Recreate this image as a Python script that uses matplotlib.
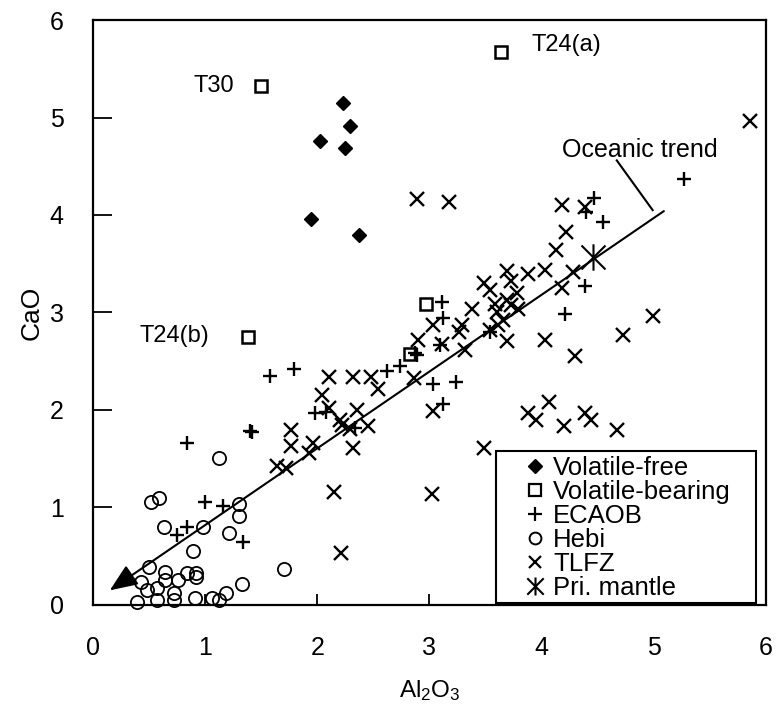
import numpy as np
import matplotlib.pyplot as plt
from matplotlib.lines import Line2D
from matplotlib.path import Path
from matplotlib.patches import Rectangle

plt.rcParams['font.family'] = ['Liberation Sans', 'DejaVu Sans']
plt.rcParams['mathtext.default'] = 'regular'

# ---- data (Al2O3, CaO) ----
vfree_al = [2.23, 2.29, 2.02, 2.25, 1.94, 2.37]
vfree_ca = [5.15, 4.91, 4.76, 4.69, 3.96, 3.79]

vbear_al = [3.64, 1.50, 1.38, 2.97, 2.83]
vbear_ca = [5.67, 5.32, 2.75, 3.09, 2.57]

ecaob_al = [0.84, 1.40, 1.42, 1.00, 1.16, 0.84, 0.75, 1.34, 1.58, 1.79, 1.98, 2.08,
            2.34, 2.62, 2.74, 2.87, 2.89, 3.09, 3.11, 3.12, 3.03, 3.24, 3.12, 3.54,
            4.21, 4.39, 4.40, 4.47, 4.55, 5.27]
ecaob_ca = [1.66, 1.78, 1.77, 1.06, 1.02, 0.80, 0.72, 0.65, 2.35, 2.42, 1.97, 1.98,
            1.82, 2.40, 2.45, 2.58, 2.56, 2.67, 3.11, 2.94, 2.27, 2.29, 2.06, 2.80,
            2.98, 3.27, 4.03, 4.17, 3.93, 4.37]

hebi_al = [0.39, 0.57, 0.72, 0.72, 0.91, 1.06, 1.12, 1.19, 1.33, 1.70, 0.50, 0.43,
           0.48, 0.57, 0.64, 0.64, 0.76, 0.84, 0.92, 0.92, 0.89, 0.63, 0.98, 1.21,
           1.30, 1.30, 0.52, 0.59, 1.12]
hebi_ca = [0.03, 0.05, 0.12, 0.05, 0.07, 0.07, 0.05, 0.12, 0.22, 0.37, 0.39, 0.24,
           0.15, 0.17, 0.34, 0.26, 0.26, 0.33, 0.33, 0.29, 0.55, 0.80, 0.80, 0.74,
           1.04, 0.91, 1.06, 1.10, 1.51]

tlfz_al = [2.89, 3.17, 4.18, 4.39, 4.22, 4.13, 4.03, 3.88, 4.28, 4.18, 3.69, 3.49,
           3.54, 3.73, 3.78, 3.69, 3.73, 3.79, 3.58, 3.60, 3.66, 3.61, 3.54, 3.69,
           3.38, 3.29, 3.26, 3.03, 2.90, 3.11, 3.32, 2.86, 3.03, 4.99, 4.73, 4.30,
           4.03, 4.07, 3.88, 3.95, 4.20, 4.39, 4.44, 4.67, 3.49, 5.86, 3.02, 2.21,
           2.15, 2.04, 2.10, 2.32, 2.48, 2.54, 2.10, 2.35, 2.22, 2.29, 2.45, 2.32,
           1.77, 1.77, 1.96, 1.93, 1.64, 1.72, 2.20]
tlfz_ca = [4.16, 4.13, 4.10, 4.08, 3.83, 3.64, 3.44, 3.39, 3.42, 3.25, 3.43, 3.30,
           3.23, 3.32, 3.20, 3.13, 3.08, 3.04, 3.09, 3.01, 2.92, 2.87, 2.82, 2.71,
           3.04, 2.87, 2.80, 2.87, 2.72, 2.68, 2.62, 2.33, 1.99, 2.96, 2.77, 2.55,
           2.72, 2.08, 1.97, 1.90, 1.84, 1.97, 1.90, 1.79, 1.61, 4.96, 1.14, 0.53,
           1.16, 2.15, 2.34, 2.34, 2.34, 2.22, 2.02, 2.00, 1.85, 1.81, 1.84, 1.61,
           1.79, 1.63, 1.66, 1.56, 1.43, 1.40, 1.90]

mantle_al = [4.46]
mantle_ca = [3.57]

# oceanic trend: (end point, arrow tip)
trend_al = [5.09, 0.15]
trend_ca = [4.04, 0.15]
leader_al = [4.67, 4.99]
leader_ca = [4.56, 4.05]

sample_labels = ['T24(a)', 'T30', 'T24(b)']
label_al = [3.91, 1.26, 1.04]
label_ca = [5.74, 5.32, 2.76]
label_ha = ['left', 'right', 'right']

# asterisk-like marker for primitive mantle
star = Path([(-1, -1), (1, 1), (-1, 1), (1, -1), (0, -1.1), (0, 1.1)],
            [Path.MOVETO, Path.LINETO] * 3)

fig = plt.figure(figsize=(7.78, 7.07), dpi=100)
ax = fig.add_axes([0.1195, 0.1443, 0.8650, 0.8274])

ax.annotate('', xy=(trend_al[1], trend_ca[1]), xytext=(trend_al[0], trend_ca[0]),
            arrowprops=dict(arrowstyle='-|>,head_length=0.85,head_width=0.35',
                            mutation_scale=20, color='black', lw=1.5,
                            shrinkA=0, shrinkB=0))
ax.plot(leader_al, leader_ca, color='black', lw=1.5)

ax.plot(hebi_al, hebi_ca, 'o', ms=9.5, mfc='none', mec='black', mew=1.3, clip_on=False)
ax.plot(ecaob_al, ecaob_ca, '+', ms=10.5, mec='black', mew=1.7)
ax.plot(tlfz_al, tlfz_ca, 'x', ms=10, mec='black', mew=1.7)
ax.plot(vbear_al, vbear_ca, 's', ms=9, mfc='none', mec='black', mew=1.8)
ax.plot(vfree_al, vfree_ca, 'D', ms=7.6, color='black')
ax.plot(mantle_al, mantle_ca, marker=star, ls='none', ms=19, mec='black', mew=1.5)

for t, x, y, ha in zip(sample_labels, label_al, label_ca, label_ha):
    ax.text(x, y, t, fontsize=17, ha=ha, va='center')
ax.text(4.18, 4.67, 'Oceanic trend', fontsize=18, ha='left', va='center')

ax.set_xlim(0, 6)
ax.set_ylim(0, 6)
ax.set_xticks(range(7))
ax.set_yticks(range(7))
ax.tick_params(axis='both', direction='in', labelsize=18, width=1.3)
ax.tick_params(axis='x', length=8, pad=22)
ax.tick_params(axis='y', length=14, pad=21)
for s in ax.spines.values():
    s.set_linewidth(1.6)

ax.set_xlabel('Al$_2$O$_3$', fontsize=17.5, va='center')
ax.set_ylabel('CaO', fontsize=19, va='center')
ax.xaxis.set_label_coords(0.5, -0.147)
ax.yaxis.set_label_coords(-0.091, 0.5)

# legend box
ax.add_patch(Rectangle((0.599, 0.003), 0.386, 0.26, transform=ax.transAxes,
                       fc='white', ec='black', lw=1.5, zorder=5))
handles = [
    Line2D([], [], ls='none', marker='D', ms=7.5, color='black'),
    Line2D([], [], ls='none', marker='s', ms=9, mfc='none', mec='black', mew=1.6),
    Line2D([], [], ls='none', marker='+', ms=9.5, mec='black', mew=1.6),
    Line2D([], [], ls='none', marker='o', ms=8.5, mfc='none', mec='black', mew=1.4),
    Line2D([], [], ls='none', marker='x', ms=9, mec='black', mew=1.6),
    Line2D([], [], ls='none', marker=star, ms=13, mec='black', mew=1.5),
]
names = ['Volatile-free', 'Volatile-bearing', 'ECAOB', 'Hebi', 'TLFZ', 'Pri. mantle']
leg = ax.legend(handles, names, loc='upper left', bbox_to_anchor=(0.642, 0.254),
                frameon=False, fontsize=18.5, borderpad=0, borderaxespad=0,
                handlelength=0.8, handletextpad=0.3, labelspacing=0.0)
leg.set_zorder(6)

fig.savefig('out.png', dpi=100)
